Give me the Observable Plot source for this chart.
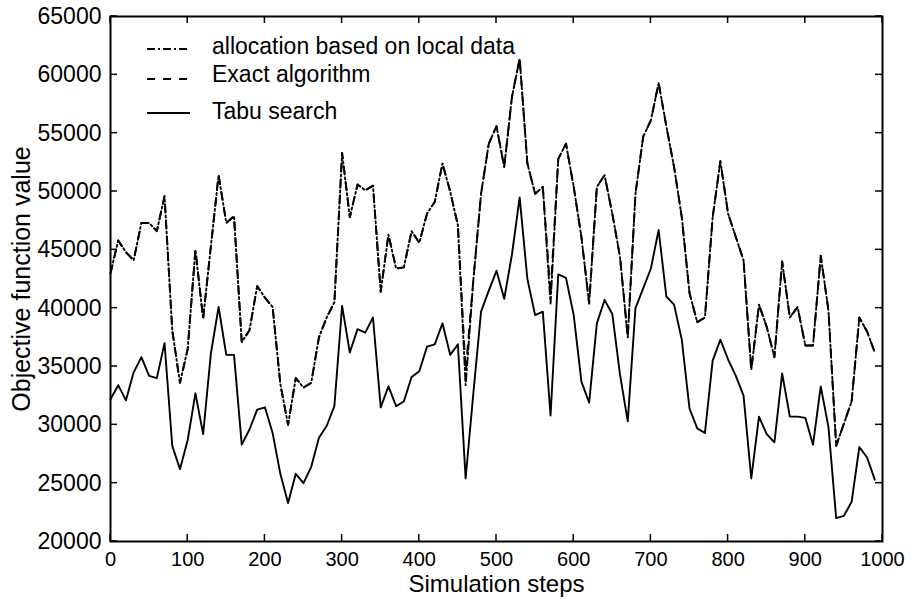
<!DOCTYPE html>
<html>
<head>
<meta charset="utf-8">
<script src="https://cdn.jsdelivr.net/npm/d3@7"></script>
<script src="https://cdn.jsdelivr.net/npm/@observablehq/plot@0.6"></script>
<style>
  body { margin: 0; background: #fff; }
  #chart { width: 914px; height: 601px; }
</style>
</head>
<body>
<div id="chart"></div>
<script>
// Simulation step of each sample
const steps = [
  0, 10, 20, 30, 40, 50, 60, 70, 80, 90,
  100, 110, 120, 130, 140, 150, 160, 170, 180, 190,
  200, 210, 220, 230, 240, 250, 260, 270, 280, 290,
  300, 310, 320, 330, 340, 350, 360, 370, 380, 390,
  400, 410, 420, 430, 440, 450, 460, 470, 480, 490,
  500, 510, 520, 530, 540, 550, 560, 570, 580, 590,
  600, 610, 620, 630, 640, 650, 660, 670, 680, 690,
  700, 710, 720, 730, 740, 750, 760, 770, 780, 790,
  800, 810, 820, 830, 840, 850, 860, 870, 880, 890,
  900, 910, 920, 930, 940, 950, 960, 970, 980, 990
];

// Objective function value: allocation based on local data
const localAlloc = [
  43000, 45800, 44800, 44100, 47300, 47300, 46600, 49600, 38100, 33600,
  36500, 45000, 39100, 45300, 51400, 47300, 47900, 37100, 38100, 41900,
  40900, 40100, 33500, 30000, 34000, 33200, 33600, 37500, 39200, 40500,
  53300, 47800, 50600, 50100, 50500, 41400, 46300, 43400, 43500, 46600,
  45600, 48100, 49100, 52400, 50000, 47100, 33400, 42400, 49800, 54100,
  55600, 52100, 58100, 61400, 52400, 49800, 50400, 40400, 52800, 54100,
  50400, 46100, 40400, 50400, 51400, 48100, 44400, 37500, 49800, 54700,
  56100, 59300, 55600, 52100, 47800, 41300, 38800, 39200, 47800, 52600,
  48100, 46100, 44100, 34700, 40300, 38400, 35800, 44000, 39200, 40100,
  36800, 36800, 44500, 39800, 28200, 30100, 32000, 39200, 38000, 36200
];

// Objective function value: exact algorithm
const exactAlg = [
  43000, 45800, 44800, 44100, 47300, 47300, 46600, 49600, 38100, 33600,
  36500, 45000, 39100, 45300, 51400, 47300, 47900, 37100, 38100, 41900,
  40900, 40100, 33500, 30000, 34000, 33200, 33600, 37500, 39200, 40500,
  53300, 47800, 50600, 50100, 50500, 41400, 46300, 43400, 43500, 46600,
  45600, 48100, 49100, 52400, 50000, 47100, 34600, 42400, 49800, 54100,
  55600, 52100, 58100, 61400, 52400, 49800, 50400, 41200, 52800, 54100,
  50400, 46100, 40400, 50400, 51400, 48100, 44400, 37500, 49800, 54700,
  56100, 59300, 55600, 52100, 47800, 41300, 38800, 39200, 47800, 52600,
  48100, 46100, 44100, 34700, 40300, 38400, 35800, 44000, 39200, 40100,
  36800, 36800, 44500, 39800, 28200, 30100, 32000, 39200, 38000, 36200
];

// Objective function value: tabu search
const tabu = [
  32200, 33400, 32100, 34500, 35800, 34200, 34000, 37000, 28200, 26200,
  28700, 32700, 29200, 36100, 40100, 36000, 36000, 28300, 29600, 31300,
  31500, 29300, 25800, 23300, 25800, 25000, 26400, 28900, 29900, 31600,
  40200, 36200, 38200, 37900, 39200, 31500, 33300, 31600, 32000, 34100,
  34600, 36700, 36900, 38700, 36000, 36900, 25400, 32700, 39700, 41500,
  43200, 40800, 44600, 49500, 42500, 39400, 39700, 30800, 42900, 42600,
  39400, 33700, 31900, 38700, 40700, 39500, 34300, 30300, 40000, 41700,
  43400, 46700, 41000, 40300, 37300, 31400, 29700, 29300, 35500, 37300,
  35600, 34200, 32500, 25400, 30700, 29200, 28500, 34400, 30700, 30700,
  30600, 28300, 33300, 29800, 22000, 22200, 23400, 28100, 27200, 25300
];

const xTicks = [0, 100, 200, 300, 400, 500, 600, 700, 800, 900, 1000];
const yTicks = [20000, 25000, 30000, 35000, 40000, 45000, 50000, 55000, 60000, 65000];

const seriesNames = ["allocation based on local data", "Exact algorithm", "Tabu search"];
const xTitle = "Simulation steps";
const yTitle = "Objective function value";

const font = "'Liberation Sans', Arial, Helvetica, sans-serif";
// dash-dot, dashed, solid (same period so overlapping stretches keep their gaps)
const dashPatterns = ["8,3,2,3", "8,8", null];
const lineWidth = 1.9;

const series = [localAlloc, exactAlg, tabu].map((vals, k) =>
  steps.map((s, i) => ({step: s, value: vals[i], series: seriesNames[k]}))
);

const lineMarks = series.map((rows, k) =>
  Plot.line(rows, {
    x: "step",
    y: "value",
    stroke: "#000",
    strokeWidth: lineWidth,
    strokeDasharray: dashPatterns[k] ?? undefined
  })
);

const chart = Plot.plot({
  width: 914,
  height: 601,
  marginLeft: 110,
  marginRight: 32,
  marginTop: 16,
  marginBottom: 60,
  style: {fontFamily: font, fontSize: "20px", color: "#000", background: "#fff", overflow: "visible"},
  x: {domain: [0, 1000]},
  y: {domain: [20000, 65000]},
  marks: [
    ...lineMarks,
    Plot.axisX(xTicks, {anchor: "bottom", tickSize: 0, tickPadding: 10, fontSize: 20, label: null, tickFormat: d => String(d)}),
    Plot.axisY(yTicks, {anchor: "left", tickSize: 0, tickPadding: 9, fontSize: 23, label: null, tickFormat: d => String(d)}),
    Plot.frame({stroke: "#000", strokeWidth: 2}),
    Plot.text([yTitle], {frameAnchor: "left", dx: -89, rotate: -90, textAnchor: "middle", lineAnchor: "middle", fontSize: 25, text: d => d, fill: "#000"}),
    Plot.text([xTitle], {frameAnchor: "bottom", dy: 43, textAnchor: "middle", lineAnchor: "middle", fontSize: 24, text: d => d, fill: "#000"})
  ]
});

const svg = d3.select(chart);
const sx = chart.scale("x"), sy = chart.scale("y");
const frameTop = sy.apply(65000), frameBottom = sy.apply(20000);
const frameLeft = sx.apply(0), frameRight = sx.apply(1000);
const tickLen = 7;

// Inward ticks on all four sides of the frame
const tickGroup = svg.append("g").attr("stroke", "#000").attr("stroke-width", 1.5);
xTicks.forEach(t => {
  const x = sx.apply(t);
  tickGroup.append("line").attr("x1", x).attr("x2", x).attr("y1", frameBottom).attr("y2", frameBottom - tickLen);
  tickGroup.append("line").attr("x1", x).attr("x2", x).attr("y1", frameTop).attr("y2", frameTop + tickLen);
});
yTicks.forEach(t => {
  const y = sy.apply(t);
  tickGroup.append("line").attr("x1", frameLeft).attr("x2", frameLeft + tickLen).attr("y1", y).attr("y2", y);
  tickGroup.append("line").attr("x1", frameRight).attr("x2", frameRight - tickLen).attr("y1", y).attr("y2", y);
});

// Legend inside the upper-left corner of the frame
const legend = svg.append("g")
  .attr("font-family", font)
  .attr("font-size", 23)
  .attr("text-anchor", "start");
const legendLineY = [49, 79, 113];
const legendBaseY = [54, 82, 119];
seriesNames.forEach((name, k) => {
  const ln = legend.append("line")
    .attr("x1", 147).attr("x2", 190)
    .attr("y1", legendLineY[k]).attr("y2", legendLineY[k])
    .attr("stroke", "#000").attr("stroke-width", lineWidth);
  if (dashPatterns[k]) ln.attr("stroke-dasharray", dashPatterns[k]);
  legend.append("text")
    .attr("x", 212).attr("y", legendBaseY[k])
    .attr("fill", "#000")
    .text(name);
});

document.getElementById("chart").appendChild(chart);
</script>
</body>
</html>
